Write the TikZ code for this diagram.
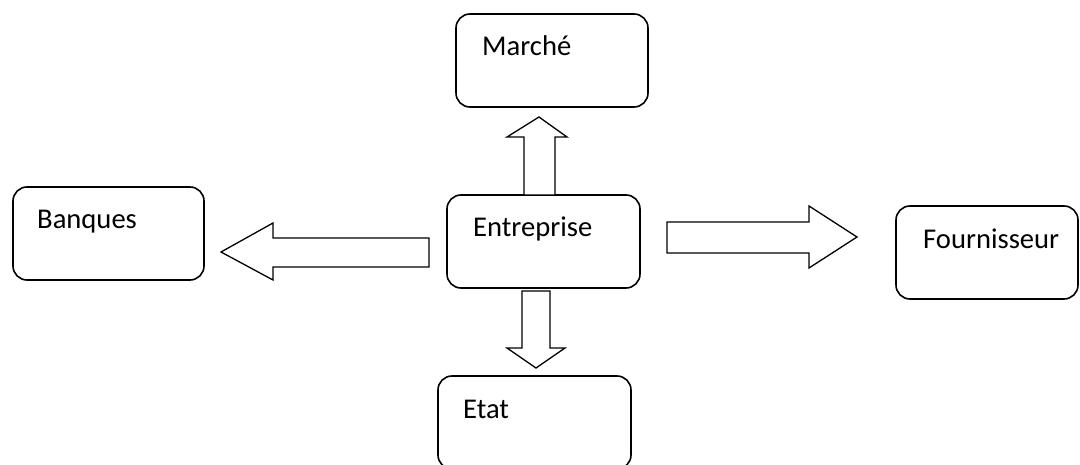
\documentclass[tikz,border=0pt]{standalone}
\usepackage{fontspec}
\setmainfont{Carlito}
\begin{document}
\begin{tikzpicture}[x=1pt,y=-1pt,
  box/.style={draw=black,line width=1.6pt,rounded corners=14pt,minimum width=#1,minimum height=93pt,inner sep=0pt},
  lbl/.style={anchor=base west,inner sep=0pt,font=\fontsize{28.6}{34}\selectfont},
  blockarrow/.style={draw=black,fill=white,line width=1.3pt,line join=miter}]
\useasboundingbox (0,0) rectangle (1080,465);
\clip (0,0) rectangle (1080,465);
% boxes
\node[box=192pt] (marche) at (552,60.5) {};
\node[box=193pt] (entreprise) at (543.5,241.5) {};
\node[box=191pt] (banques) at (108.5,233.5) {};
\node[box=182pt] (fournisseur) at (987,252.5) {};
\node[box=193pt] (etat) at (534.5,422.5) {};
% labels
\node[lbl] (tm) at (482,56) {Marché};
\node[lbl] (te) at (473,237) {Entreprise};
\node[lbl] (tb) at (37,229) {Banques};
\node[lbl] (tf) at (923,249) {Fournisseur};
\node[lbl] (tt) at (463,418) {Etat};
% block arrows
% up: Entreprise -> Marché
\draw[blockarrow] (524,195) -- (524,137) -- (507,137) -- (539,117) -- (567,137) -- (555,137) -- (555,195) -- cycle;
% down: Entreprise -> Etat
\draw[blockarrow] (522,291) -- (550,291) -- (550,348) -- (565,348) -- (536,368) -- (507,348) -- (522,348) -- cycle;
% left: Entreprise -> Banques
\draw[blockarrow] (429,238) -- (273,238) -- (273,223) -- (221,252) -- (273,280) -- (273,267) -- (429,267) -- cycle;
% right: Entreprise -> Fournisseur
\draw[blockarrow] (667,222) -- (809,222) -- (809,206) -- (857,237) -- (809,268) -- (809,253) -- (667,253) -- cycle;
\end{tikzpicture}
\end{document}
